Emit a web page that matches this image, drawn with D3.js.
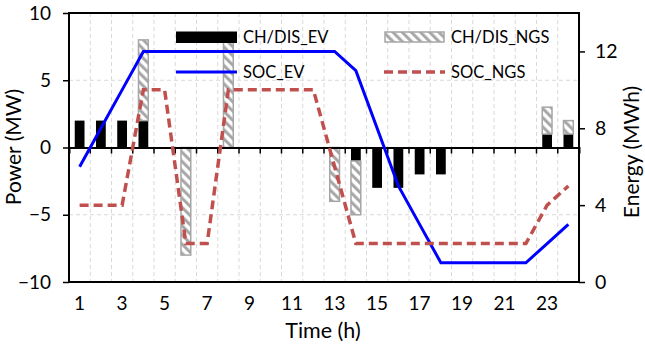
<!DOCTYPE html>
<html><head><meta charset="utf-8">
<script src="https://cdn.jsdelivr.net/npm/d3@7"></script>
<style>body{margin:0;background:#fff;} svg{display:block;font-family:Lato,"Open Sans",sans-serif;}</style>
</head><body><svg id="c" width="645" height="349"></svg>
<script>
const hours = d3.range(1,25);
const evPower  = [2,2,2,2,0,0,0,0,0,0,0,0,0,-1,-3,-3,-2,-2,0,0,0,0,1,1];
const ngsPower = [0,0,0,6,0,-8,0,8,0,0,0,0,-4,-4,0,0,0,0,0,0,0,0,2,1];
const socEV  = [6,8,10,12,12,12,12,12,12,12,12,12,12,11,8,5,3,1,1,1,1,1,2,3];
const socNGS = [4,4,4,10,10,2,2,10,10,10,10,10,6,2,2,2,2,2,2,2,2,2,4,5];
const xTickLabels = [1,3,5,7,9,11,13,15,17,19,21,23];
const leftTicks = [-10,-5,0,5,10];
const rightTicks = [0,4,8,12];

const L=69,R=579,T=13,B=282;
const svg=d3.select("#c");
const x=d3.scaleBand().domain(hours).range([L,R]).padding(0);
const y=d3.scaleLinear().domain([-10,10]).range([B,T]);
const y2=d3.scaleLinear().domain([0,14]).range([B,T]);
const bw=x.bandwidth()*0.46;
const cx=h=>x(h)+x.bandwidth()/2;

const defs=svg.append("defs");
const pat=defs.append("pattern").attr("id","hatch").attr("patternUnits","userSpaceOnUse")
  .attr("width",6.5).attr("height",6.5).attr("patternTransform","rotate(-45)");
pat.append("rect").attr("width",6.5).attr("height",6.5).attr("fill","#fff");
pat.append("line").attr("x1",1.6).attr("y1",0).attr("x2",1.6).attr("y2",6.5).attr("stroke","#a6a6a6").attr("stroke-width",3);

// gridlines
const gridC="#d9d9d9";
svg.append("g").selectAll("line").data(d3.range(1,24)).join("line")
  .attr("x1",k=>L+k*x.bandwidth()).attr("x2",k=>L+k*x.bandwidth())
  .attr("y1",T).attr("y2",B).attr("stroke",gridC).attr("stroke-width",1).attr("stroke-dasharray","4,3");
svg.append("g").selectAll("line").data([-5,5]).join("line")
  .attr("x1",L).attr("x2",R).attr("y1",d=>y(d)).attr("y2",d=>y(d))
  .attr("stroke",gridC).attr("stroke-width",1).attr("stroke-dasharray","4,3");

// stacked bars
const rows=hours.map((h,i)=>({h,ev:evPower[i],ngs:ngsPower[i]}));
const stack=d3.stack().keys(["ev","ngs"]).offset(d3.stackOffsetDiverging)(rows);
const gb=svg.append("g");
stack.forEach(s=>{
  gb.append("g").selectAll("rect").data(s.filter(d=>d[1]!==d[0])).join("rect")
    .attr("x",d=>cx(d.data.h)-bw/2).attr("width",bw)
    .attr("y",d=>y(Math.max(d[0],d[1]))).attr("height",d=>Math.abs(y(d[0])-y(d[1])))
    .attr("fill",s.key==="ev"?"#000":"url(#hatch)")
    .attr("stroke",s.key==="ev"?"none":"#a6a6a6").attr("stroke-width",1.5);
});

// zero axis with ticks
const zeroAxis=d3.axisBottom(x).tickSize(6).tickFormat("");
const gz=svg.append("g").attr("transform",`translate(0,${y(0)})`).call(zeroAxis);
gz.select(".domain").attr("stroke","#000").attr("stroke-width",2);
gz.selectAll(".tick").attr("transform",d=>`translate(${x(d)},0)`);
gz.selectAll(".tick line").attr("stroke","#000").attr("stroke-width",1.5);

// frame
svg.append("rect").attr("x",L).attr("y",T).attr("width",R-L).attr("height",B-T)
  .attr("fill","none").attr("stroke","#000").attr("stroke-width",2);

// left axis
const la=svg.append("g").attr("transform",`translate(${L},0)`)
  .call(d3.axisLeft(y).tickValues(leftTicks).tickSize(6).tickPadding(12));
la.select(".domain").remove();
la.selectAll(".tick line").attr("stroke","#000").attr("stroke-width",1.5);
la.selectAll("text").attr("font-size",19).attr("fill","#000").attr("font-family","Lato");
// right axis
const ra=svg.append("g").attr("transform",`translate(${R},0)`)
  .call(d3.axisRight(y2).tickValues(rightTicks).tickSize(6).tickPadding(10));
ra.select(".domain").remove();
ra.selectAll(".tick line").attr("stroke","#000").attr("stroke-width",1.5);
ra.selectAll("text").attr("font-size",19.5).attr("fill","#000").attr("font-family","Lato");
// bottom labels
svg.append("g").selectAll("text").data(xTickLabels).join("text")
  .attr("x",d=>cx(d)).attr("y",310).attr("text-anchor","middle")
  .attr("font-size",19).text(d=>d);

// lines
const lineEV=d3.line().x((d,i)=>cx(hours[i])).y(d=>y2(d));
svg.append("path").attr("d",lineEV(socEV)).attr("fill","none").attr("stroke","#0000ff").attr("stroke-width",3);
svg.append("path").attr("d",lineEV(socNGS)).attr("fill","none").attr("stroke","#c0504d")
  .attr("stroke-width",3.5).attr("stroke-dasharray","9,5");

// axis titles
svg.append("text").attr("transform","translate(21,147) rotate(-90)").attr("text-anchor","middle")
  .attr("font-size",21).text("Power (MW)");
svg.append("text").attr("transform","translate(639,152) rotate(-90)").attr("text-anchor","middle")
  .attr("font-size",21).text("Energy (MWh)");
svg.append("text").attr("x",323).attr("y",338).attr("text-anchor","middle")
  .attr("font-size",21.5).text("Time (h)");

// legend
const lg=svg.append("g");
lg.append("rect").attr("x",176).attr("y",31.5).attr("width",61).attr("height",11.5).attr("fill","#000");
lg.append("text").attr("x",243).attr("y",43).attr("font-size",16.5).text("CH/DIS_EV");
lg.append("line").attr("x1",176).attr("x2",237).attr("y1",72).attr("y2",72).attr("stroke","#0000ff").attr("stroke-width",3);
lg.append("text").attr("x",243).attr("y",78).attr("font-size",16.5).text("SOC_EV");
lg.append("rect").attr("x",385).attr("y",32).attr("width",59).attr("height",10).attr("fill","url(#hatch)")
  .attr("stroke","#a6a6a6").attr("stroke-width",1.5);
lg.append("text").attr("x",451).attr("y",43).attr("font-size",16.5).text("CH/DIS_NGS");
lg.append("line").attr("x1",384).attr("x2",445).attr("y1",72).attr("y2",72).attr("stroke","#c0504d")
  .attr("stroke-width",3.5).attr("stroke-dasharray","9,5");
lg.append("text").attr("x",451).attr("y",78).attr("font-size",16.5).text("SOC_NGS");
</script></body></html>
